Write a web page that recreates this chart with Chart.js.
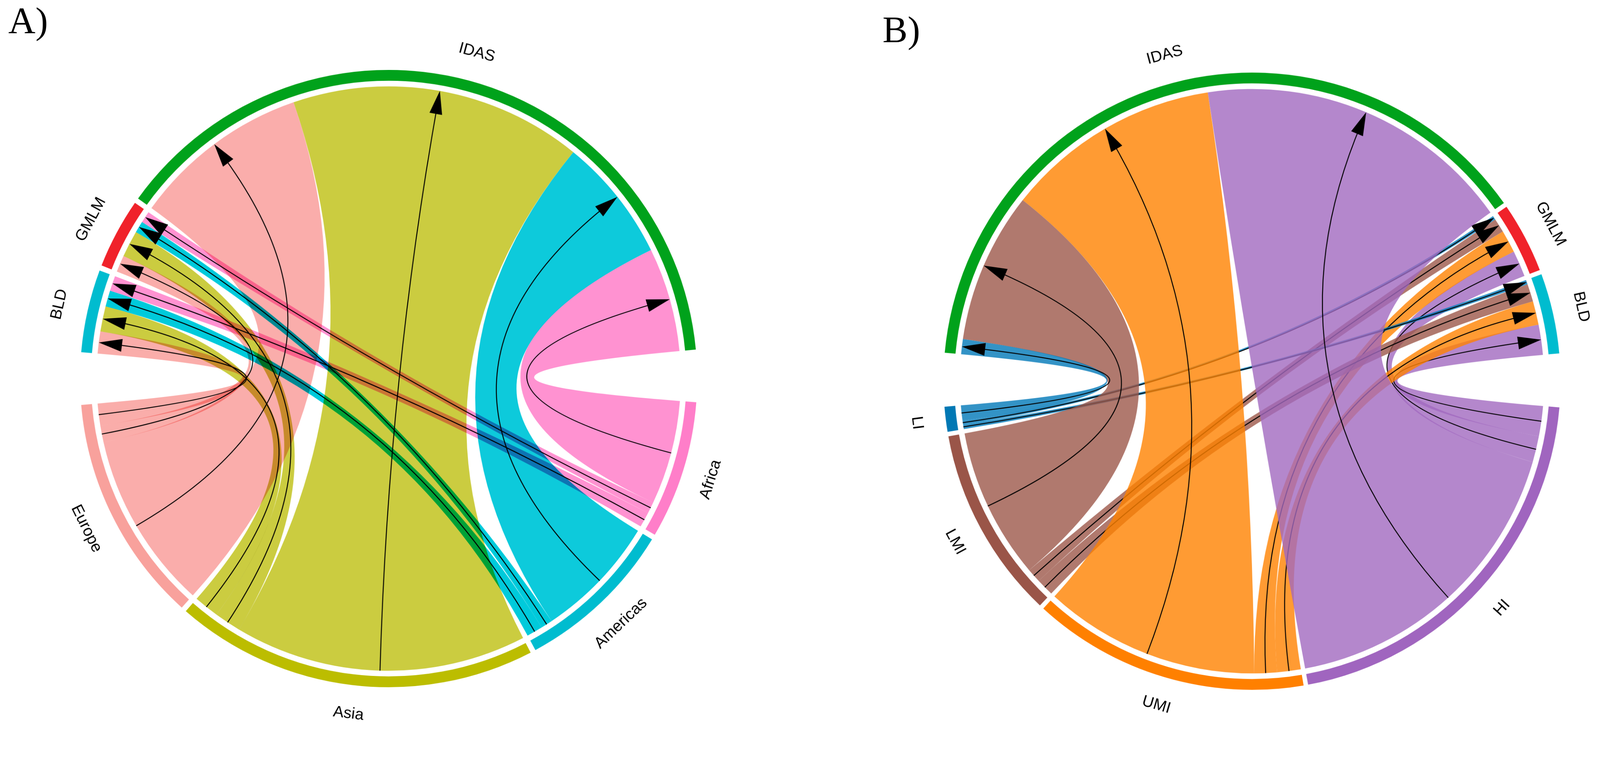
<!DOCTYPE html>
<html>
<head>
<meta charset="utf-8">
<script src="https://cdn.jsdelivr.net/npm/chart.js@4.4.1/dist/chart.umd.min.js"></script>
<style>
  html, body { margin: 0; padding: 0; background: #fff; overflow: hidden; }
  #stage { width: 4257px; height: 1958px; position: relative; transform-origin: 0 0; }
  canvas { position: absolute; }
  .panel-tag { position: absolute; font-family: "Liberation Serif", "Times New Roman", serif; font-size: 100px; line-height: 100px; color: #000; }
</style>
</head>
<body>
<div id="stage">
  <div class="panel-tag" style="left:22px;top:5px">A)</div>
  <div class="panel-tag" style="left:2348px;top:29px">B)</div>
  <canvas id="chartA" width="1840" height="1840" style="left:114px;top:87px"></canvas>
  <canvas id="chartB" width="1840" height="1840" style="left:2411px;top:94px"></canvas>
</div>
<script>
// Panel A: flows from regions to the three targets
const sourcesA = ['Africa', 'Americas', 'Asia', 'Europe'];
const targetsA = ['IDAS', 'BLD', 'GMLM'];
// rows follow sourcesA, columns follow targetsA
const flowsA = [
  [20.7, 3.0, 2.3],
  [24.7, 3.2, 2.3],
  [58.2, 5.0, 5.3],
  [35.3, 4.4, 3.3]
];
const ringOrderA = ['IDAS', 'Africa', 'Americas', 'Asia', 'Europe', 'BLD', 'GMLM'];
const gapsA = [9.8, 1, 1, 1, 9.8, 1, 1];

// Panel B: flows from income groups to the three targets
const sourcesB = ['HI', 'UMI', 'LMI', 'LI'];
const targetsB = ['IDAS', 'GMLM', 'BLD'];
const flowsB = [
  [63.45, 5.2, 6.0],
  [43.0, 4.5, 4.7],
  [30.0, 2.8, 3.5],
  [3.0, 0.8, 0.9]
];
const ringOrderB = ['IDAS', 'GMLM', 'BLD', 'HI', 'UMI', 'LMI', 'LI'];
const gapsB = [0.85, 0.85, 10.05, 0.85, 0.85, 0.85, 10.05];

const ringColors = {
  IDAS: '#00A21B', GMLM: '#F0222A', BLD: '#00BCCF',
  Africa: '#FF7EC9', Americas: '#00BCCF', Asia: '#BCBD00', Europe: '#F8A19C',
  HI: '#A065BF', UMI: '#FF8000', LMI: '#9A5548', LI: '#0078B4'
};
const ribbonColors = {
  Africa: '#FF92D1', Americas: '#00CADB', Asia: '#CBCC40', Europe: '#FAADAA',
  HI: '#B487CC', UMI: '#FF9B33', LMI: '#B0796E', LI: '#0093C6'
};

const panelA = {
  sources: sourcesA, targets: targetsA, flows: flowsA, ring: ringOrderA, gaps: gapsA,
  rotation: 305.7,
  sourceSlotOrder: ['IDAS', 'GMLM', 'BLD'],
  targetSlotOrder: ['Europe', 'Asia', 'Americas', 'Africa'],
  thinFirst: false, bigAlpha: 0.95, thinAlpha: 1, thinBlend: 'multiply'
};
const panelB = {
  sources: sourcesB, targets: targetsB, flows: flowsB, ring: ringOrderB, gaps: gapsB,
  rotation: 275.3,
  sourceSlotOrder: ['BLD', 'GMLM', 'IDAS'],
  targetSlotOrder: ['LI', 'LMI', 'UMI', 'HI'],
  thinFirst: true, bigAlpha: 0.8, thinAlpha: 0.8, thinBlend: 'source-over'
};

// fit the 4257x1958 layout into whatever viewport we get
const fit = Math.min(window.innerWidth / 4257, window.innerHeight / 1958);
if (Math.abs(fit - 1) > 0.001) document.getElementById('stage').style.transform = `scale(${fit})`;

// colour that looks like `hex` over white when painted with alpha a
function ribbonFill(hex, a) {
  const n = parseInt(hex.slice(1), 16);
  const ch = [n >> 16, (n >> 8) & 255, n & 255]
    .map(v => Math.max(0, Math.min(255, Math.round((v - 255 * (1 - a)) / a))));
  return `rgba(${ch[0]},${ch[1]},${ch[2]},${a})`;
}

function sectorTotal(p, name) {
  const si = p.sources.indexOf(name);
  if (si >= 0) return p.flows[si].reduce((a, b) => a + b, 0);
  const ti = p.targets.indexOf(name);
  return p.flows.reduce((a, row) => a + row[ti], 0);
}

function chordPlugin(p) {
  return {
    id: 'chord',
    afterDatasetsDraw(chart) {
      const ctx = chart.ctx;
      const arcs = chart.getDatasetMeta(0).data;
      const sector = {};
      p.ring.forEach((name, i) => { sector[name] = arcs[2 * i]; });
      const cx = arcs[0].x, cy = arcs[0].y;
      const r = arcs[0].innerRadius - 15;
      const pt = (rad, a) => [cx + rad * Math.cos(a), cy + rad * Math.sin(a)];

      // angular slot of every link inside its source and target sectors
      const links = [];
      p.sources.forEach((src, si) => {
        p.targets.forEach((tgt, ti) => {
          const sArc = sector[src], tArc = sector[tgt];
          const sTot = sectorTotal(p, src), tTot = sectorTotal(p, tgt);
          let sCum = 0;
          for (const t of p.sourceSlotOrder) { if (t === tgt) break; sCum += p.flows[si][p.targets.indexOf(t)]; }
          let tCum = 0;
          for (const s of p.targetSlotOrder) { if (s === src) break; tCum += p.flows[p.sources.indexOf(s)][ti]; }
          const v = p.flows[si][ti];
          const sSpan = sArc.endAngle - sArc.startAngle, tSpan = tArc.endAngle - tArc.startAngle;
          links.push({
            src, big: tgt === 'IDAS',
            s0: sArc.startAngle + sSpan * sCum / sTot,
            s1: sArc.startAngle + sSpan * (sCum + v) / sTot,
            t0: tArc.startAngle + tSpan * tCum / tTot,
            t1: tArc.startAngle + tSpan * (tCum + v) / tTot
          });
        });
      });
      links.sort((a, b) => p.thinFirst
        ? (a.big ? 1 : 0) - (b.big ? 1 : 0)
        : (b.big ? 1 : 0) - (a.big ? 1 : 0));

      ctx.save();
      links.forEach(l => {
        // ribbon
        ctx.beginPath();
        ctx.arc(cx, cy, r, l.s0, l.s1);
        ctx.quadraticCurveTo(cx, cy, ...pt(r, l.t0));
        ctx.arc(cx, cy, r, l.t0, l.t1);
        ctx.quadraticCurveTo(cx, cy, ...pt(r, l.s0));
        ctx.closePath();
        ctx.globalCompositeOperation = l.big ? 'source-over' : p.thinBlend;
        ctx.fillStyle = ribbonFill(ribbonColors[l.src], l.big ? p.bigAlpha : p.thinAlpha);
        ctx.fill();
        ctx.globalCompositeOperation = 'source-over';

        // arrow along the middle of the ribbon
        const sm = (l.s0 + l.s1) / 2, tm = (l.t0 + l.t1) / 2;
        ctx.beginPath();
        ctx.moveTo(...pt(r, sm));
        ctx.quadraticCurveTo(cx, cy, ...pt(r - 30, tm));
        ctx.strokeStyle = '#000';
        ctx.lineWidth = 2.5;
        ctx.stroke();
        const tip = pt(r, tm), base = pt(r - 62, tm);
        const nx = -Math.sin(tm) * 17, ny = Math.cos(tm) * 17;
        ctx.beginPath();
        ctx.moveTo(tip[0], tip[1]);
        ctx.lineTo(base[0] + nx, base[1] + ny);
        ctx.lineTo(base[0] - nx, base[1] - ny);
        ctx.closePath();
        ctx.fillStyle = '#000';
        ctx.fill();
      });

      // sector names around the ring
      ctx.font = '42px "Liberation Sans", Arial, sans-serif';
      ctx.fillStyle = '#000';
      ctx.textAlign = 'center';
      ctx.textBaseline = 'middle';
      p.ring.forEach(name => {
        const a = sector[name];
        const mid = (a.startAngle + a.endAngle) / 2;
        let theta = (mid + Math.PI / 2) % (2 * Math.PI);
        if (theta < 0) theta += 2 * Math.PI;
        const rot = (theta > Math.PI / 2 && theta < 3 * Math.PI / 2) ? theta - Math.PI : theta;
        const [x, y] = pt(898, mid);
        ctx.save();
        ctx.translate(x, y);
        ctx.rotate(rot);
        ctx.fillText(name, 0, 0);
        ctx.restore();
      });
      ctx.restore();
    }
  };
}

function buildChart(canvasId, p) {
  const labels = [], values = [], colors = [];
  p.ring.forEach((name, i) => {
    labels.push(name); values.push(sectorTotal(p, name)); colors.push(ringColors[name]);
    labels.push(''); values.push(p.gaps[i]); colors.push('rgba(0,0,0,0)');
  });
  return new Chart(document.getElementById(canvasId), {
    type: 'doughnut',
    data: { labels, datasets: [{ data: values, backgroundColor: colors, borderWidth: 0, hoverOffset: 0 }] },
    options: {
      responsive: false,
      animation: false,
      devicePixelRatio: window.devicePixelRatio || 1,
      events: [],
      rotation: p.rotation,
      radius: 821,
      cutout: '96.5%',
      layout: { padding: 0 },
      plugins: { legend: { display: false }, tooltip: { enabled: false } }
    },
    plugins: [chordPlugin(p)]
  });
}

buildChart('chartA', panelA);
buildChart('chartB', panelB);
</script>
</body>
</html>
